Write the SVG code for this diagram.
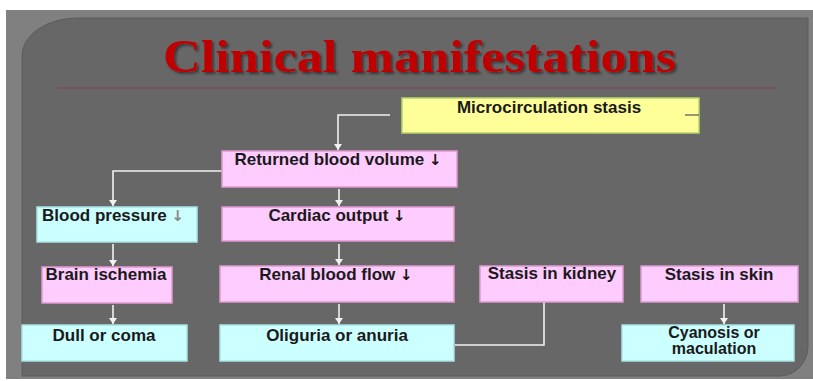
<svg xmlns="http://www.w3.org/2000/svg" width="813" height="381" viewBox="0 0 813 381">
<style>
.lbl{font-family:"Liberation Sans",Arial,sans-serif;font-weight:bold;font-size:17px;fill:#1a1a1a;text-anchor:middle}
.ar{font-family:"DejaVu Sans",sans-serif;font-weight:bold;font-size:15px}
.pink{fill:#ffccff;stroke:#e09ad0;stroke-width:1.5}
.cyan{fill:#ccffff;stroke:#a8e4e4;stroke-width:1.5}
.yel{fill:#ffff99;stroke:#b5d66a;stroke-width:1.5}
.con{fill:none;stroke:#f2f2f2;stroke-width:1.6}
</style>
<defs>
<marker id="ah" markerUnits="userSpaceOnUse" markerWidth="10" markerHeight="8" refX="6" refY="4" orient="auto">
<path d="M0,0 L6,4 L0,8 Z" fill="#f2f2f2"/>
</marker>
<filter id="sh" x="-5%" y="-20%" width="110%" height="150%">
<feDropShadow dx="2" dy="2" stdDeviation="1.2" flood-color="#222" flood-opacity="0.7"/>
</filter>
</defs>
<rect width="813" height="381" fill="#ffffff"/>
<rect x="6" y="10" width="807" height="369" fill="#808080"/>
<path d="M22,56 A55,38 0 0 1 77,18 H808 V346 A28,30 0 0 1 780,376 H22 Z" fill="#676767" stroke="#5c5c5c" stroke-width="1"/>
<text x="163" y="72" textLength="513" lengthAdjust="spacingAndGlyphs" font-family="'Liberation Serif','Times New Roman',serif" font-weight="bold" font-size="46" fill="#c00000" filter="url(#sh)">Clinical manifestations</text>
<line x1="58" y1="88" x2="777" y2="88" stroke="#8e3a58" stroke-width="1.2"/>

<g id="connectors">
<path class="con" d="M390,115 H338 V150" marker-end="url(#ah)"/>
<path class="con" d="M222,171 H113 V206" marker-end="url(#ah)"/>
<path class="con" d="M339,189 V206" marker-end="url(#ah)"/>
<path class="con" d="M113,244 V266" marker-end="url(#ah)"/>
<path class="con" d="M339,244 V265" marker-end="url(#ah)"/>
<path class="con" d="M113,305 V324" marker-end="url(#ah)"/>
<path class="con" d="M339,304 V324" marker-end="url(#ah)"/>
<path class="con" d="M455,345 H544 V302"/>
<path class="con" d="M724,304 V324" marker-end="url(#ah)"/>
</g>

<g id="micro">
<rect class="yel" x="402" y="98" width="297" height="35"/>
<line x1="685" y1="115" x2="699" y2="115" stroke="#555" stroke-width="1.2"/>
<text class="lbl" x="549" y="113">Microcirculation stasis</text>
</g>
<g id="returned">
<rect class="pink" x="222" y="151" width="235" height="36"/>
<text class="lbl" x="338" y="165">Returned blood volume <tspan class="ar">↓</tspan></text>
</g>
<g id="bp">
<rect class="cyan" x="37" y="207" width="160" height="35"/>
<text class="lbl" x="113" y="221">Blood pressure <tspan class="ar" fill="#8a8a8a">↓</tspan></text>
</g>
<g id="cardiac">
<rect class="pink" x="222" y="207" width="232" height="34"/>
<text class="lbl" x="337" y="221">Cardiac output <tspan class="ar">↓</tspan></text>
</g>
<g id="brain">
<rect class="pink" x="42" y="267" width="130" height="36"/>
<text class="lbl" x="106" y="280">Brain ischemia</text>
</g>
<g id="renal">
<rect class="pink" x="220" y="266" width="234" height="36"/>
<text class="lbl" x="336" y="280">Renal blood flow <tspan class="ar">↓</tspan></text>
</g>
<g id="kidney">
<rect class="pink" x="480" y="266" width="143" height="36"/>
<text class="lbl" x="552" y="279">Stasis in kidney</text>
</g>
<g id="skin">
<rect class="pink" x="641" y="266" width="157" height="36"/>
<text class="lbl" x="719" y="280">Stasis in skin</text>
</g>
<g id="dull">
<rect class="cyan" x="22" y="325" width="165" height="36"/>
<text class="lbl" x="104" y="341">Dull or coma</text>
</g>
<g id="oliguria">
<rect class="cyan" x="220" y="325" width="234" height="36"/>
<text class="lbl" x="337" y="341">Oliguria or anuria</text>
</g>
<g id="cyanosis">
<rect class="cyan" x="622" y="325" width="172" height="36"/>
<text class="lbl" x="714" y="338" style="font-size:16px">Cyanosis or</text>
<text class="lbl" x="714" y="354" style="font-size:16px">maculation</text>
</g>
</svg>
